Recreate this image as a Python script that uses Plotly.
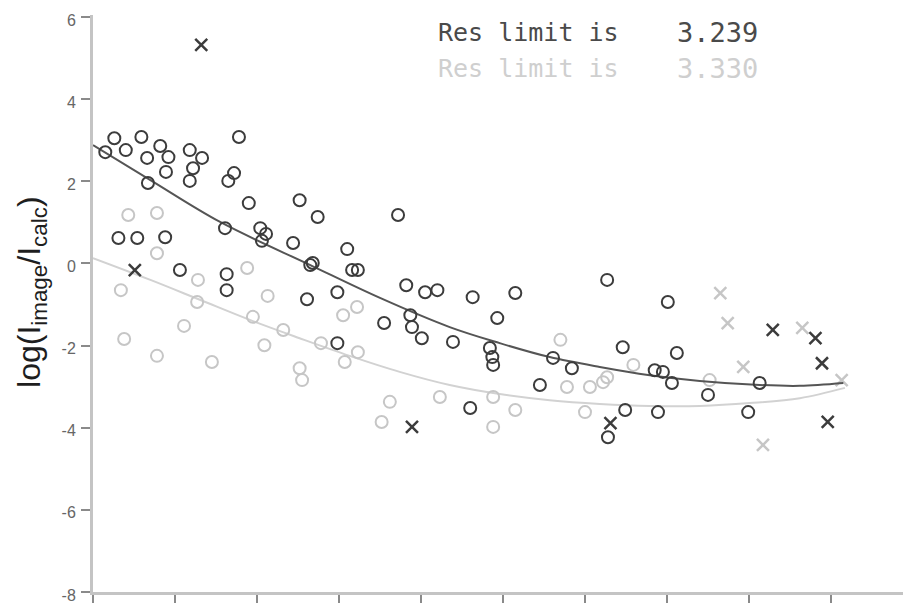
import plotly.graph_objects as go

# ---- data -------------------------------------------------------------
# dark series (first dataset): accepted reflections
dark_x = [0.15, 0.26, 0.40, 0.59, 0.66, 0.82, 0.92, 0.89, 0.67, 1.18, 1.33, 1.22, 1.18,
          1.78, 1.65, 1.72, 1.61, 1.90, 2.04, 2.11, 2.06, 2.52, 2.74, 2.44, 2.68, 3.10,
          3.16, 3.23, 2.65, 2.61, 2.98, 1.63, 1.63, 1.06, 0.31, 0.54, 0.88, 2.98, 3.55,
          3.72, 3.82, 4.05, 4.20, 3.87, 3.89, 4.63, 5.15, 4.93, 4.01, 4.39, 4.84, 4.87,
          4.88, 5.61, 5.84, 5.45, 4.60, 6.49, 6.28, 6.27, 7.01, 6.46, 7.12, 6.85, 6.95,
          7.06, 7.50, 8.13, 6.89, 7.99]
dark_y = [2.71, 3.05, 2.76, 3.08, 2.57, 2.86, 2.59, 2.23, 1.96, 2.76, 2.57, 2.32, 2.01,
          3.08, 2.01, 2.20, 0.86, 1.47, 0.86, 0.72, 0.55, 1.54, 1.13, 0.50, 0.01, 0.35,
          -0.16, -0.16, -0.04, -0.87, -0.70, -0.26, -0.65, -0.16, 0.62, 0.62, 0.64, -1.94, -1.45,
          1.18, -0.53, -0.70, -0.65, -1.26, -1.55, -0.82, -0.72, -1.33, -1.82, -1.91, -2.06, -2.28,
          -2.47, -2.30, -2.55, -2.96, -3.52, -3.57, -4.23, -0.40, -0.94, -2.04, -2.18, -2.60, -2.64,
          -2.91, -3.20, -2.91, -3.62, -3.62]
# dark series: rejected reflections
dark_rej_x = [1.32, 0.51, 3.89, 6.31, 8.29, 8.81, 8.89, 8.96]
dark_rej_y = [5.32, -0.16, -3.98, -3.89, -1.62, -1.82, -2.43, -3.86]
# dark series: fitted curve
dark_fit_x = [0.0, 0.70, 1.55, 2.65, 3.50, 4.35, 4.96, 5.57, 6.18, 6.79, 7.40, 8.13, 8.62, 9.15]
dark_fit_y = [2.88, 2.03, 1.01, -0.04, -0.84, -1.55, -1.94, -2.28, -2.52, -2.72, -2.86, -2.96, -2.98, -2.91]

# light series (second dataset): accepted reflections
light_x = [0.43, 0.78, 0.78, 0.34, 0.38, 0.78, 1.11, 1.45, 1.27, 1.28, 1.88, 2.13, 1.95,
           2.09, 2.32, 2.78, 3.05, 3.22, 2.52, 2.55, 3.07, 3.23, 3.52, 3.62, 4.23, 4.88,
           5.15, 4.88, 5.78, 6.06, 6.22, 6.00, 5.70, 6.59, 6.27, 7.52]
light_y = [1.18, 1.23, 0.25, -0.65, -1.84, -2.25, -1.52, -2.40, -0.94, -0.40, -0.11, -0.79, -1.30,
           -1.99, -1.62, -1.94, -1.26, -1.06, -2.55, -2.84, -2.40, -2.16, -3.86, -3.37, -3.25, -3.25,
           -3.57, -3.98, -3.01, -3.01, -2.89, -3.62, -1.86, -2.47, -2.77, -2.84]
# light series: rejected reflections
light_rej_x = [7.65, 7.74, 8.65, 7.93, 9.13, 8.17]
light_rej_y = [-0.72, -1.45, -1.57, -2.52, -2.84, -4.42]
# light series: fitted curve
light_fit_x = [0.0, 0.70, 1.31, 1.92, 2.52, 3.13, 3.74, 4.35, 4.96, 5.57, 6.18, 6.79, 7.40, 8.01, 8.62, 9.17]
light_fit_y = [0.13, -0.40, -0.89, -1.38, -1.82, -2.25, -2.64, -2.96, -3.18, -3.33, -3.42, -3.47, -3.47, -3.40, -3.28, -3.03]

# resolution limits reported for each dataset
res_limits = ["3.239", "3.330"]

y_ticks = [6, 4, 2, 0, -2, -4, -6, -8]
x_ticks = list(range(0, 10))

DARK = "#3c3c3c"
LIGHT = "#c6c6c6"

fig = go.Figure()

# light dataset first so the dark one sits on top
fig.add_trace(go.Scatter(x=light_fit_x, y=light_fit_y, mode="lines",
                         line=dict(color="#d2d2d2", width=2, shape="spline"),
                         hoverinfo="skip"))
fig.add_trace(go.Scatter(x=light_x, y=light_y, mode="markers",
                         marker=dict(symbol="circle-open", size=12, color=LIGHT,
                                     line=dict(width=2, color=LIGHT))))
fig.add_trace(go.Scatter(x=light_rej_x, y=light_rej_y, mode="markers",
                         marker=dict(symbol="x-thin-open", size=12, color=LIGHT,
                                     line=dict(width=2.5, color=LIGHT))))

fig.add_trace(go.Scatter(x=dark_fit_x, y=dark_fit_y, mode="lines",
                         line=dict(color="#555555", width=2, shape="spline"),
                         hoverinfo="skip"))
fig.add_trace(go.Scatter(x=dark_x, y=dark_y, mode="markers",
                         marker=dict(symbol="circle-open", size=12, color=DARK,
                                     line=dict(width=2, color=DARK))))
fig.add_trace(go.Scatter(x=dark_rej_x, y=dark_rej_y, mode="markers",
                         marker=dict(symbol="x-thin-open", size=12, color=DARK,
                                     line=dict(width=2.5, color=DARK))))

# resolution-limit legend text
mono = "DejaVu Sans Mono"
for i, (lim, col) in enumerate(zip(res_limits, ["#4a4a4a", "#cfcfcf"])):
    ypos = [0.969, 0.907][i]
    fig.add_annotation(xref="paper", yref="paper", x=0.4235, y=ypos,
                       xanchor="left", yanchor="middle", showarrow=False,
                       text="Res limit is", font=dict(family=mono, size=25, color=col))
    fig.add_annotation(xref="paper", yref="paper", x=0.719, y=ypos,
                       xanchor="left", yanchor="middle", showarrow=False,
                       text=lim, font=dict(family=mono, size=27, color=col))

# y axis title
fig.add_annotation(xref="paper", yref="paper", x=0, y=0.52, xshift=-61,
                   xanchor="center", yanchor="middle", showarrow=False, textangle=-90,
                   text="log(I<sub>image</sub>/I<sub>calc</sub>)",
                   font=dict(family="Liberation Sans, Arial", size=32, color="#1e1e1e"))

fig.update_layout(
    width=903, height=603,
    margin=dict(l=93, r=0, t=15, b=11, autoexpand=False),
    paper_bgcolor="white", plot_bgcolor="white",
    showlegend=False,
    xaxis=dict(range=[0, 9.878], tickvals=x_ticks, showticklabels=False,
               showgrid=False, zeroline=False, automargin=False,
               showline=True, linecolor="#c4c4c4", linewidth=3,
               ticks="outside", ticklen=11, tickwidth=2, tickcolor="#8a8a8a"),
    yaxis=dict(range=[-8, 6.05], tickvals=y_ticks, ticktext=[str(v) for v in y_ticks],
               showgrid=False, zeroline=False, automargin=False,
               showline=True, linecolor="#c4c4c4", linewidth=3,
               ticks="outside", ticklen=9, tickwidth=2, tickcolor="#8a8a8a",
               ticklabelshift=3, ticklabelstandoff=2, ticklabeloverflow="allow",
               tickfont=dict(family="Liberation Sans, Arial", size=16, color="#666666")),
)

fig.write_html("out.html")
